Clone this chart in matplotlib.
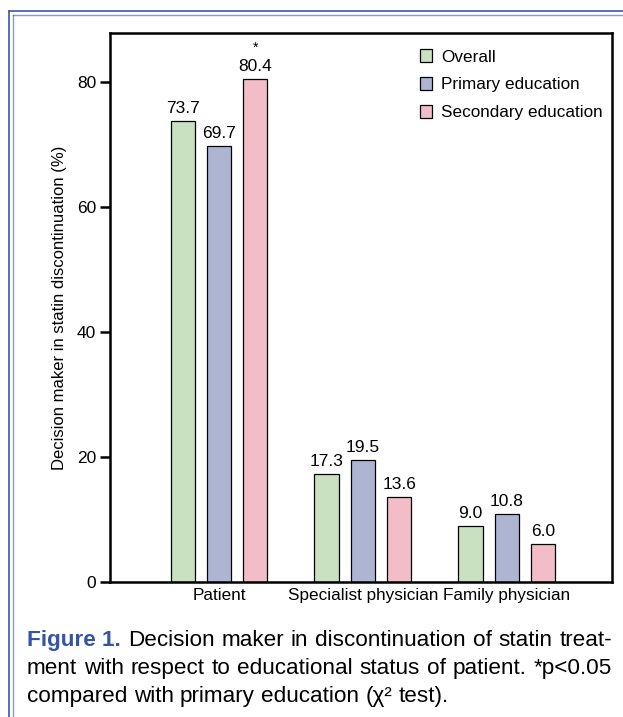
import numpy as np
import matplotlib.pyplot as plt
from matplotlib.lines import Line2D
from matplotlib.patches import Patch

plt.rcParams['font.family'] = ['Liberation Sans', 'DejaVu Sans']

categories = ['Patient', 'Specialist physician', 'Family physician']
series = ['Overall', 'Primary education', 'Secondary education']
overall = [73.7, 17.3, 9.0]
primary = [69.7, 19.5, 10.8]
secondary = [80.4, 13.6, 6.0]
colors = ['#c9e0c1', '#aeb5d2', '#f2bdc9']
yticks = [0, 20, 40, 60, 80]

caption_lines = [
    'Figure 1. Decision maker in discontinuation of statin treat-',
    'ment with respect to educational status of patient. *p<0.05',
    'compared with primary education (χ² test).',
]

W, H = 623, 717
fig = plt.figure(figsize=(W / 100, H / 100), dpi=100)
ax = fig.add_axes([110 / W, 1 - 582 / H, 502 / W, 549 / H])

x = np.arange(len(categories))
w = 0.167
off = 0.253
for i, (vals, c) in enumerate(zip([overall, primary, secondary], colors)):
    pos = x + (i - 1) * off
    ax.bar(pos, vals, width=w, color=c, edgecolor='black', linewidth=0.9)
    for p, v in zip(pos, vals):
        ax.text(p, v + 0.8, f'{v:.1f}', ha='center', va='bottom', fontsize=12.5)

# significance marker
ax.text(x[0] + off, secondary[0] + 3.9, '*', ha='center', va='bottom', fontsize=10)

ax.set_xlim(-0.757, 2.73)
ax.set_ylim(0, 87.8)
ax.set_yticks(yticks)
ax.set_xticks(x)
ax.set_xticklabels(categories, fontsize=12.3)
ax.tick_params(axis='x', length=0, pad=4)
ax.tick_params(axis='y', direction='out', length=7, width=1.8, labelsize=12.5, pad=3)
for s in ax.spines.values():
    s.set_linewidth(1.8)
ax.set_ylabel('Decision maker in statin discontinuation (%)', fontsize=12, labelpad=7)

handles = [Patch(facecolor=c, edgecolor='black', linewidth=0.9) for c in colors]
ax.legend(handles, series, loc='upper right', frameon=False, fontsize=12.3,
          handlelength=0.75, handleheight=0.75, handletextpad=0.5, labelspacing=0.74,
          bbox_to_anchor=(1.005, 0.992), borderaxespad=0.3)

# caption, justified to the axes' right edge for the first two lines
blue = '#3355a6'
fs = 16.2
x0, x1 = 27, 612
baselines = [646, 674, 702]
fig.canvas.draw()
renderer = fig.canvas.get_renderer()
t1 = fig.text(0, 0, 'a b', fontsize=fs)
t2 = fig.text(0, 0, 'ab', fontsize=fs)
space = t1.get_window_extent(renderer).width - t2.get_window_extent(renderer).width
t1.remove()
t2.remove()
for li, (line, yb) in enumerate(zip(caption_lines, baselines)):
    words = line.split(' ')
    if li == 0:
        words = ['Figure 1.'] + words[2:]
    arts = []
    for wi, wd in enumerate(words):
        bold = (li == 0 and wi == 0)
        t = fig.text(0, 1 - yb / H, wd, fontsize=fs, va='baseline',
                     color=blue if bold else 'black',
                     fontweight='bold' if bold else 'normal')
        arts.append(t)
    widths = [a.get_window_extent(renderer).width for a in arts]
    if li < 2:
        gap = (x1 - x0 - sum(widths)) / (len(words) - 1)
    else:
        gap = space
    cx = x0
    for a, wd in zip(arts, widths):
        a.set_x(cx / W)
        cx += wd + gap

# double border, top and left
bc = '#3b5aa6'
for xx, lw, a in [(8.5, 1.2, 1.0), (12.5, 1.0, 0.6)]:
    fig.add_artist(Line2D([xx / W, xx / W], [0, 1 - (xx + 2) / H],
                          color=bc, lw=lw, alpha=a, transform=fig.transFigure))
for yy, lw, a in [(10.5, 1.2, 1.0), (14.5, 1.0, 0.6)]:
    fig.add_artist(Line2D([(yy - 2) / W, 1], [1 - yy / H, 1 - yy / H],
                          color=bc, lw=lw, alpha=a, transform=fig.transFigure))

fig.savefig('out.png', dpi=100)
